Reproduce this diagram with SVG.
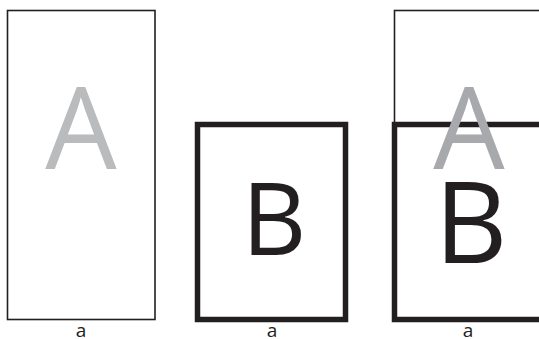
<svg xmlns="http://www.w3.org/2000/svg" width="539" height="339" viewBox="0 0 539 339">
<style>
.thin{fill:#fff;stroke:#231f20;stroke-width:1.6}
.thick{fill:#fff;stroke:#231f20;stroke-width:5.5}
.big{font-family:"Open Sans","Liberation Sans",sans-serif;text-anchor:middle}
.ga{fill:#b9bbbd}
.bb{fill:#231f20}
.lbl{font-family:"Open Sans","Liberation Sans",sans-serif;font-size:19px;fill:#231f20;text-anchor:middle}
</style>
<rect width="539" height="339" fill="#fff"/>
<g id="panel-a">
<rect class="thin" x="7.5" y="10.5" width="147.5" height="309"/>
<text class="big ga" x="81" y="169" font-size="113">A</text>
<text class="lbl" x="81" y="337">a</text>
</g>
<g id="panel-b">
<rect class="thick" x="197.5" y="124.5" width="148" height="195"/>
<text class="big bb" x="274" y="255" font-size="100">B</text>
<text class="lbl" x="272" y="337">a</text>
</g>
<g id="panel-ab">
<rect class="thin" x="394.5" y="10.5" width="160" height="309"/>
<rect class="thick" x="394.5" y="124.5" width="160" height="195"/>
<text class="big bb" x="471" y="263" font-size="113">B</text>
<text class="big" fill="#a7a9ac" x="469" y="169" font-size="113">A</text>
<text class="lbl" x="468" y="337">a</text>
</g>
<g id="connectors"/>
</svg>
